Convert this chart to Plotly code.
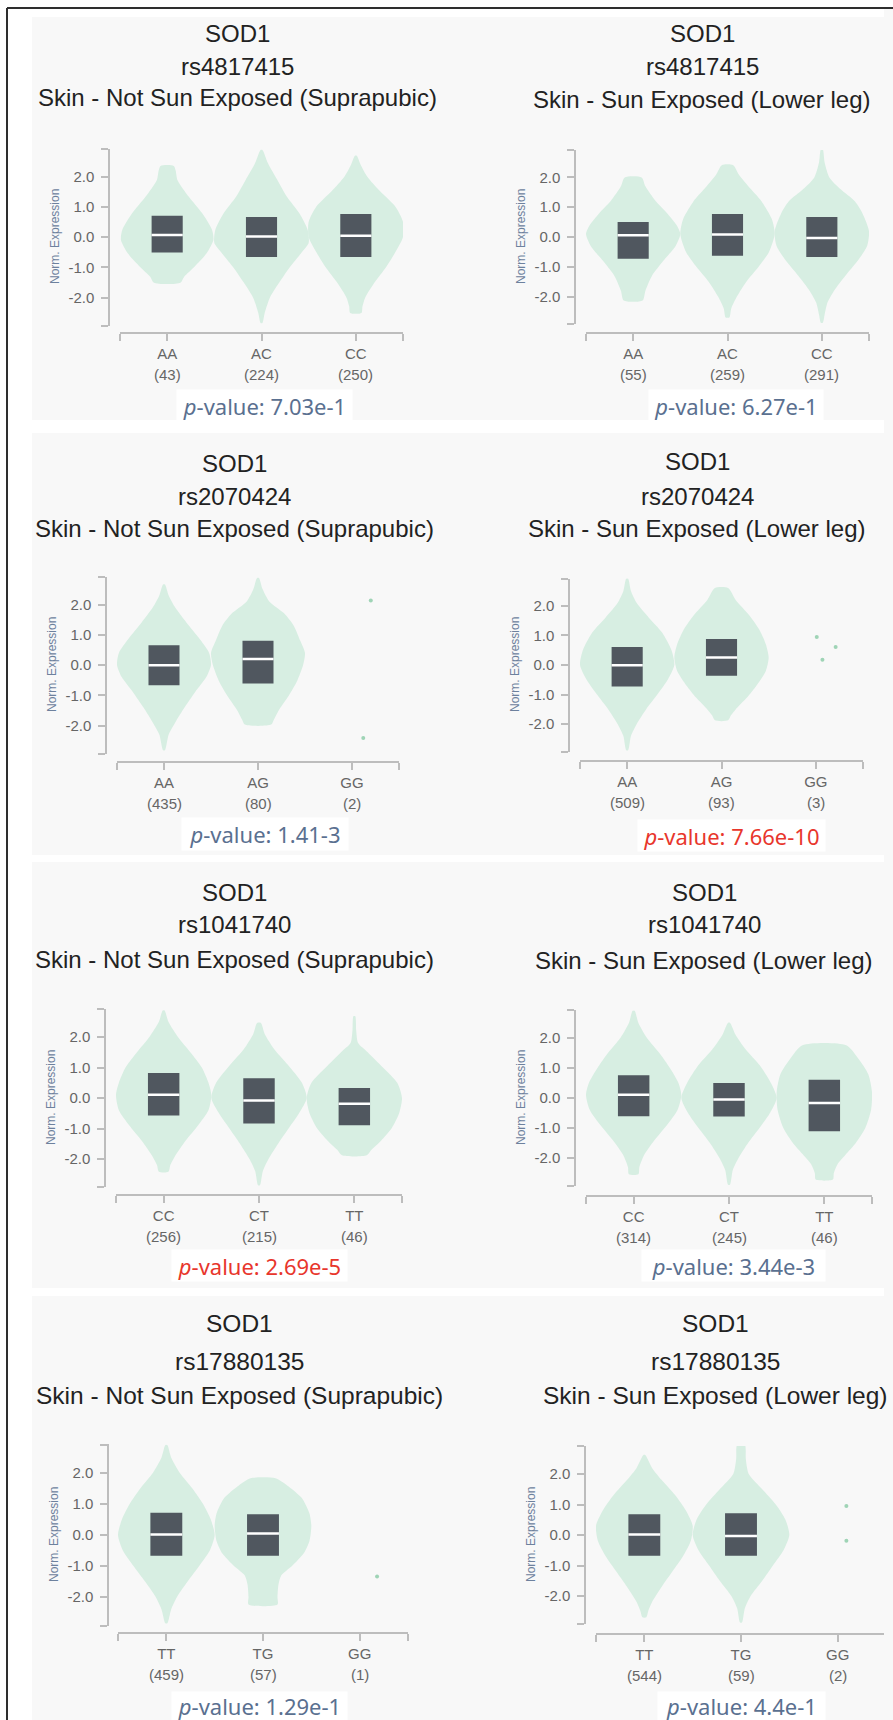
import plotly.graph_objects as go

W, H = 893, 1720

# ---------------- DATA ----------------
GENE = "SOD1"
SNPS = ["rs4817415", "rs4817415", "rs2070424", "rs2070424",
        "rs1041740", "rs1041740", "rs17880135", "rs17880135"]
TISSUES = ["Skin - Not Sun Exposed (Suprapubic)", "Skin - Sun Exposed (Lower leg)"] * 4
GENOTYPES = [["AA", "AC", "CC"], ["AA", "AC", "CC"],
             ["AA", "AG", "GG"], ["AA", "AG", "GG"],
             ["CC", "CT", "TT"], ["CC", "CT", "TT"],
             ["TT", "TG", "GG"], ["TT", "TG", "GG"]]
COUNTS = [[43, 224, 250], [55, 259, 291], [435, 80, 2], [509, 93, 3],
          [256, 215, 46], [314, 245, 46], [459, 57, 1], [544, 59, 2]]
PVALUES = ["7.03e-1", "6.27e-1", "1.41-3", "7.66e-10",
           "2.69e-5", "3.44e-3", "1.29e-1", "4.4e-1"]
SIGNIFICANT = [False, False, False, True, True, False, False, False]

# box statistics (None = too few samples, only points shown)
Q1 = [[-0.51, -0.66, -0.66], [-0.73, -0.63, -0.67], [-0.67, -0.61, None], [-0.73, -0.36, None],
      [-0.57, -0.84, -0.89], [-0.61, -0.62, -1.11], [-0.67, -0.67, None], [-0.68, -0.68, None]]
MEDIAN = [[0.07, 0.02, 0.04], [0.06, 0.08, -0.03], [-0.01, 0.20, None], [-0.01, 0.25, None],
          [0.11, -0.08, -0.19], [0.11, -0.05, -0.17], [0.02, 0.05, None], [0.02, -0.03, None]]
Q3 = [[0.70, 0.66, 0.76], [0.50, 0.77, 0.67], [0.65, 0.80, None], [0.61, 0.88, None],
      [0.82, 0.65, 0.33], [0.76, 0.50, 0.61], [0.72, 0.67, None], [0.68, 0.71, None]]

# violin density profiles: expression levels (top -> bottom) and half-widths
VIOLIN_Y = [
    [[2.35, 2.2, 1.88, 1.33, 0.79, 0.23, -0.1, -0.53, -0.98, -1.31, -1.51],
     [2.88, 2.43, 1.88, 1.33, 0.79, 0.23, -0.2, -0.5, -1.0, -1.5, -2.0, -2.5, -2.84],
     [2.69, 2.4, 2.0, 1.5, 1.0, 0.5, 0.0, -0.5, -1.0, -1.5, -2.0, -2.3, -2.51]],
    [[2.0, 1.7, 1.2, 0.8, 0.4, 0.1, -0.3, -0.8, -1.3, -1.8, -2.13],
     [2.41, 2.1, 1.6, 1.2, 0.6, 0.1, -0.5, -1.0, -1.5, -2.0, -2.4, -2.7],
     [2.94, 2.5, 2.0, 1.6, 1.2, 0.8, 0.2, -0.3, -0.8, -1.3, -1.8, -2.2, -2.6, -2.88]],
    [[2.66, 2.3, 1.9, 1.4, 0.9, 0.4, 0.0, -0.4, -0.9, -1.4, -1.9, -2.3, -2.82],
     [2.88, 2.5, 2.1, 1.7, 1.3, 0.8, 0.4, 0.0, -0.5, -1.0, -1.5, -1.8, -1.97],
     None],
    [[2.92, 2.5, 2.1, 1.6, 1.1, 0.5, 0.0, -0.5, -1.0, -1.5, -2.0, -2.4, -2.88],
     [2.6, 2.2, 1.7, 1.2, 0.7, 0.25, -0.2, -0.7, -1.1, -1.5, -1.7, -1.87],
     None],
    [[2.87, 2.5, 2.0, 1.5, 1.0, 0.5, 0.1, -0.4, -0.9, -1.4, -1.9, -2.2, -2.42],
     [2.46, 2.1, 1.6, 1.1, 0.5, 0.0, -0.5, -1.0, -1.5, -2.0, -2.4, -2.86],
     [2.68, 2.2, 1.8, 1.5, 1.0, 0.5, 0.0, -0.5, -1.0, -1.4, -1.7, -1.88]],
    [[2.92, 2.5, 2.0, 1.5, 1.0, 0.5, 0.1, -0.4, -0.9, -1.4, -1.9, -2.3, -2.54],
     [2.51, 2.1, 1.6, 1.1, 0.5, 0.0, -0.5, -1.0, -1.5, -2.0, -2.4, -2.89],
     [1.76, 1.3, 0.8, 0.2, -0.4, -1.0, -1.5, -1.9, -2.2, -2.5, -2.72]],
    [[2.9, 2.5, 2.0, 1.5, 1.0, 0.5, 0.0, -0.5, -1.0, -1.5, -2.0, -2.4, -2.85],
     [1.83, 1.6, 1.2, 0.7, 0.3, -0.2, -0.6, -1.0, -1.3, -1.6, -2.0, -2.24],
     None],
    [[2.62, 2.2, 1.8, 1.3, 0.8, 0.3, -0.2, -0.7, -1.2, -1.7, -2.2, -2.5, -2.7],
     [2.95, 2.5, 2.0, 1.5, 1.0, 0.5, 0.0, -0.5, -1.0, -1.5, -2.0, -2.4, -2.87],
     None],
]
VIOLIN_W = [
    [[.07, .09, .11, .23, .37, .476, .49, .42, .29, .18, .14],
     [.01, .07, .17, .27, .40, .49, .50, .43, .30, .19, .09, .035, .01],
     [.01, .05, .12, .26, .42, .50, .50, .42, .32, .20, .10, .07, .06]],
    [[.09, .13, .24, .36, .46, .50, .45, .32, .20, .13, .10],
     [.06, .12, .25, .36, .47, .50, .44, .33, .20, .10, .04, .02],
     [.01, .03, .08, .20, .35, .43, .50, .48, .38, .25, .13, .06, .03, .01]],
    [[.01, .05, .12, .24, .37, .48, .50, .45, .33, .22, .12, .05, .01],
     [.01, .05, .12, .28, .38, .45, .50, .48, .42, .33, .22, .17, .14],
     None],
    [[.01, .04, .10, .23, .37, .47, .50, .43, .32, .20, .10, .04, .01],
     [.07, .15, .29, .40, .47, .50, .47, .37, .27, .15, .10, .07],
     None],
    [[.01, .05, .15, .28, .40, .47, .50, .47, .36, .23, .12, .07, .05],
     [.02, .06, .16, .30, .45, .50, .42, .31, .20, .10, .04, .01],
     [.01, .02, .04, .14, .30, .45, .50, .47, .39, .28, .18, .13]],
    [[.01, .05, .14, .27, .38, .47, .50, .46, .35, .22, .11, .06, .05],
     [.01, .07, .18, .32, .44, .50, .43, .32, .20, .10, .04, .01],
     [.23, .36, .46, .50, .49, .43, .33, .22, .14, .10, .09]],
    [[.01, .05, .14, .27, .38, .46, .50, .45, .34, .22, .11, .05, .01],
     [.13, .25, .40, .48, .50, .48, .42, .30, .19, .16, .15, .15],
     None],
    [[.01, .08, .18, .32, .43, .50, .48, .40, .29, .18, .08, .04, .02],
     [.04, .05, .08, .22, .36, .46, .50, .44, .33, .22, .10, .04, .01],
     None],
]
# individual sample points for genotypes with very few carriers
POINTS_Y = [[], [], [2.13, -2.41], [0.95, 0.61, 0.18], [], [], [-1.34], [0.95, -0.19]]

# ---------------- LAYOUT / STYLE ----------------
POINT_JITTER = [[], [], [0.20, 0.12], [0.01, 0.21, 0.07], [], [], [0.18], [0.09, 0.09]]
GEOM = [
    dict(tcx=237, ty=(33, 67, 98), yx=109, zero=237, unit=30.25, xl=333, xd=(120, 403), pb=(177, 352, 390, 422), fs=24),
    dict(tcx=702, ty=(33, 67, 99), yx=575, zero=237, unit=29.8, xl=333, xd=(586, 869), pb=(649, 823, 390, 422), fs=24),
    dict(tcx=234, ty=(463, 497, 528), yx=106, zero=665, unit=30.25, xl=762, xd=(117, 399), pb=(182, 348, 818, 850), fs=24),
    dict(tcx=697, ty=(462, 496, 528), yx=569, zero=665, unit=29.6, xl=761, xd=(580, 863), pb=(638, 825, 820, 851), fs=24),
    dict(tcx=234, ty=(892, 925, 959), yx=105, zero=1098, unit=30.5, xl=1195, xd=(116, 402), pb=(172, 347, 1250, 1281), fs=24),
    dict(tcx=704, ty=(892, 925, 960), yx=575, zero=1098, unit=30.0, xl=1196, xd=(586, 872), pb=(642, 825, 1250, 1281), fs=24),
    dict(tcx=239, ty=(1323, 1361, 1395), yx=108, zero=1535, unit=31.0, xl=1633, xd=(118, 408), pb=(172, 347, 1692, 1720), fs=24.5),
    dict(tcx=715, ty=(1323, 1361, 1395), yx=585, zero=1535, unit=30.5, xl=1634, xd=(596, 886), pb=(658, 825, 1692, 1720), fs=24.5),
]
Y_LO, Y_HI = -2.93, 2.92
BOX_W = 0.33
VIOLIN_COLOR = "#d7eee2"
BOX_COLOR = "#50575f"
POINT_COLOR = "#9fd4b6"
AXIS_COLOR = "#bdbdbd"
TICK_FONT = dict(family="Liberation Sans, Arial, sans-serif", size=15, color="#666666")
TITLE_FAMILY = "Liberation Sans, Arial, sans-serif"
P_FAMILY = "Noto Sans, Open Sans, sans-serif"
P_COLOR = "#5a7090"
P_RED = "#e8362c"
PANEL_BG = "#f8f8f8"


def fx(px):
    return px / W


def fy(py):
    return 1 - py / H


fig = go.Figure()
annotations = []
shapes = []

# background panels
ROW_SPANS = [(17, 420), (433, 855), (862, 1288), (1296, 1720)]
COL_SPANS = [(32, 440), (440, 893)]
for (r0, r1) in ROW_SPANS:
    for (c0, c1) in COL_SPANS:
        shapes.append(dict(type="rect", xref="paper", yref="paper", x0=fx(c0), x1=fx(c1),
                           y0=fy(r1), y1=fy(r0), fillcolor=PANEL_BG, line_width=0, layer="below"))
# black frame (top and left)
shapes.append(dict(type="line", xref="paper", yref="paper", x0=fx(7), x1=1, y0=fy(8), y1=fy(8),
                   line=dict(color="#2e2e2e", width=2)))
shapes.append(dict(type="line", xref="paper", yref="paper", x0=fx(7), x1=fx(7), y0=0, y1=fy(8),
                   line=dict(color="#2e2e2e", width=2)))
# right-edge strip kept in the panel colour
shapes.append(dict(type="rect", xref="paper", yref="paper", x0=fx(884), x1=1.0, y0=0, y1=fy(9),
                   fillcolor=PANEL_BG, line_width=0, layer="above"))

layout_axes = {}
for k in range(8):
    g = GEOM[k]
    sfx = "" if k == 0 else str(k + 1)
    xa, ya = "x" + sfx, "y" + sfx
    cats = GENOTYPES[k]

    # violins
    for j in range(len(cats)):
        vy = VIOLIN_Y[k][j]
        if vy is None:
            continue
        vw = VIOLIN_W[k][j]
        xs = [j + w for w in vw] + [j - w for w in reversed(vw)] + [j + vw[0]]
        ys = list(vy) + list(reversed(vy)) + [vy[0]]
        fig.add_trace(go.Scatter(x=xs, y=ys, mode="lines", fill="toself", fillcolor=VIOLIN_COLOR,
                                 line=dict(width=0, color=VIOLIN_COLOR, shape="spline", smoothing=0.7),
                                 xaxis=xa, yaxis=ya, hoverinfo="skip", showlegend=False))

    # boxes (interquartile range), drawn as filled rectangles above the violins
    idx = [j for j in range(len(cats)) if Q1[k][j] is not None]
    bx, by = [], []
    for j in idx:
        bx += [j - BOX_W / 2, j + BOX_W / 2, j + BOX_W / 2, j - BOX_W / 2, j - BOX_W / 2, None]
        by += [Q1[k][j], Q1[k][j], Q3[k][j], Q3[k][j], Q1[k][j], None]
    fig.add_trace(go.Scatter(x=bx, y=by, mode="lines", fill="toself", fillcolor=BOX_COLOR,
                             line=dict(width=0, color=BOX_COLOR),
                             xaxis=xa, yaxis=ya, hoverinfo="skip", showlegend=False))
    # medians
    mx, my = [], []
    for j in idx:
        mx += [j - BOX_W / 2, j + BOX_W / 2, None]
        my += [MEDIAN[k][j], MEDIAN[k][j], None]
    fig.add_trace(go.Scatter(x=mx, y=my, mode="lines", line=dict(color="white", width=2.5),
                             xaxis=xa, yaxis=ya, hoverinfo="skip", showlegend=False))
    # sparse points
    if POINTS_Y[k]:
        fig.add_trace(go.Scatter(x=[2 + d for d in POINT_JITTER[k]], y=POINTS_Y[k], mode="markers",
                                 marker=dict(color=POINT_COLOR, size=4),
                                 xaxis=xa, yaxis=ya, hoverinfo="skip", showlegend=False))

    top_px = g["zero"] - Y_HI * g["unit"]
    bot_px = g["zero"] - Y_LO * g["unit"]
    layout_axes["xaxis" + sfx] = dict(
        domain=[fx(g["xd"][0]), fx(g["xd"][1])], range=[-0.5, 2.5], anchor="free",
        position=fy(g["xl"]), showgrid=False, zeroline=False, showline=True,
        linecolor=AXIS_COLOR, linewidth=1.5, ticks="outside", ticklen=7, tickwidth=1.5,
        tickcolor=AXIS_COLOR, tickvals=[-0.4999, 0, 1, 2, 2.4999],
        ticktext=[""] + cats + [""], tickfont=TICK_FONT, fixedrange=True)
    yticks = [Y_LO + 0.002, -2, -1, 0, 1, 2, Y_HI - 0.002]
    layout_axes["yaxis" + sfx] = dict(
        domain=[fy(bot_px), fy(top_px)], range=[Y_LO, Y_HI], anchor="free",
        position=fx(g["yx"]), showgrid=False, zeroline=False, showline=True,
        linecolor=AXIS_COLOR, linewidth=1.5, ticks="outside", ticklen=7, tickwidth=1.5,
        tickcolor=AXIS_COLOR, tickvals=yticks,
        ticktext=[""] + ["%.1f" % v for v in yticks[1:-1]] + [""],
        tickfont=TICK_FONT, ticklabelstandoff=4, fixedrange=True)

    # titles
    for line, ty in zip([GENE, SNPS[k], TISSUES[k]], g["ty"]):
        annotations.append(dict(text=line, xref="paper", yref="paper", x=fx(g["tcx"]), y=fy(ty),
                                xanchor="center", yanchor="middle", showarrow=False,
                                font=dict(family=TITLE_FAMILY, size=g["fs"], color="#222222")))
    # y-axis title
    annotations.append(dict(text="Norm. Expression", xref="paper", yref="paper",
                            x=fx(g["yx"] - 54), y=fy(g["zero"]), textangle=-90,
                            xanchor="center", yanchor="middle", showarrow=False,
                            font=dict(family=TITLE_FAMILY, size=12, color="#6d819d")))
    # sample counts under genotype labels
    for j in range(len(cats)):
        annotations.append(dict(text="(%d)" % COUNTS[k][j], xref=xa, yref="paper", x=j,
                                y=fy(g["xl"] + 41), xanchor="center", yanchor="middle",
                                showarrow=False, font=TICK_FONT))
    # p-value
    x0, x1, y0, y1 = g["pb"]
    annotations.append(dict(text="<i>p</i>-value: " + PVALUES[k], xref="paper", yref="paper",
                            x=fx((x0 + x1) / 2), y=fy((y0 + y1) / 2), xanchor="center",
                            yanchor="middle", showarrow=False, width=x1 - x0, height=y1 - y0,
                            bgcolor="white", borderpad=0, align="center", valign="middle",
                            font=dict(family=P_FAMILY, size=22,
                                      color=P_RED if SIGNIFICANT[k] else P_COLOR)))

fig.update_layout(
    width=W, height=H, margin=dict(l=0, r=0, t=0, b=0),
    paper_bgcolor="white", plot_bgcolor="rgba(0,0,0,0)",
    showlegend=False, annotations=annotations, shapes=shapes,
    **layout_axes)

fig.write_html(
    "out.html",
    config={"displayModeBar": False},
    post_script=("document.body.style.margin='0';document.body.style.overflow='hidden';"
                 "document.documentElement.style.overflow='hidden';"
                 "document.body.style.background='white';"))
